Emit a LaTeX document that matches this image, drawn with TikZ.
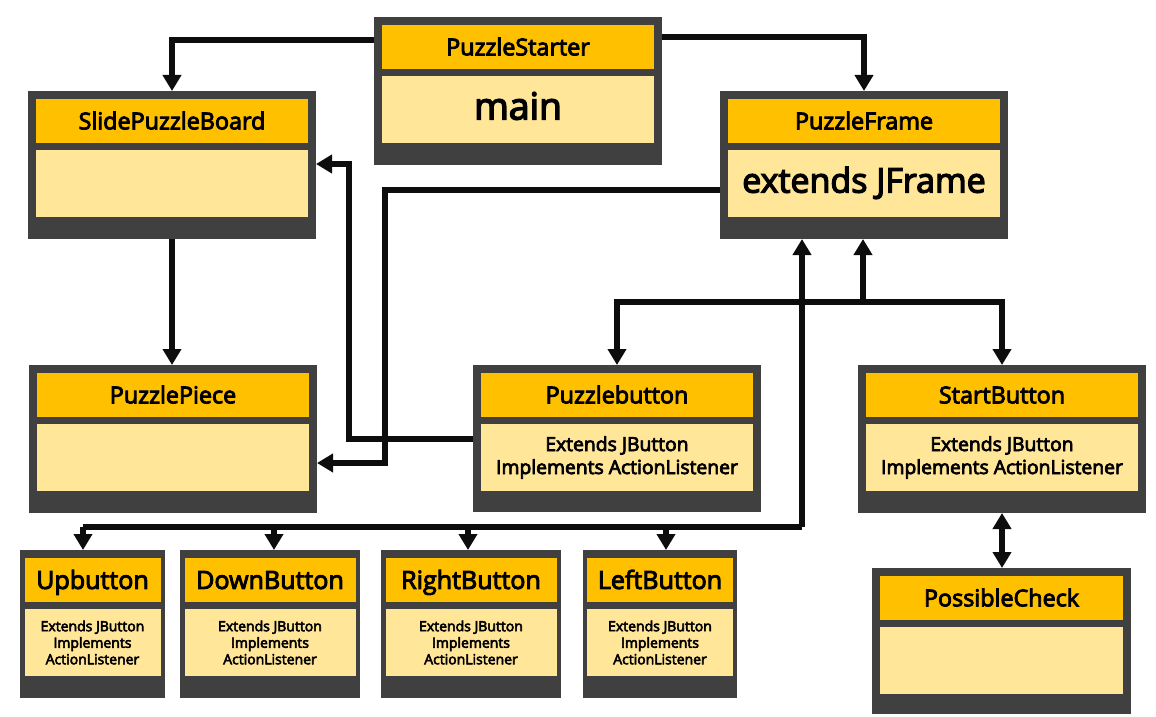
\documentclass[tikz,border=0pt]{standalone}
\usepackage{fontspec}
\setmainfont{Open Sans}[AutoFakeBold=3.8]
\usetikzlibrary{arrows.meta,fit}
\definecolor{frameC}{HTML}{404040}
\definecolor{headC}{HTML}{FFC000}
\definecolor{bodyC}{HTML}{FFE699}
\definecolor{lineC}{HTML}{0D0D0D}
\tikzset{
  outerbox/.style={fill=frameC, inner sep=0pt, outer sep=0pt},
  headbox/.style={fill=headC, inner sep=0pt, outer sep=0pt},
  bodybox/.style={fill=bodyC, inner sep=0pt, outer sep=0pt},
  htext/.style={font=\bfseries\fontsize{17.5}{20}\selectfont, inner sep=0pt, text height=12.5pt, text depth=0pt},
  bigtext/.style={font=\bfseries\fontsize{28}{32}\selectfont, inner sep=0pt, text height=15pt, text depth=0pt},
  frametext/.style={font=\bfseries\fontsize{25.5}{29}\selectfont, inner sep=0pt, text height=13.6pt, text depth=0pt},
  midtext/.style={font=\bfseries\fontsize{14.5}{17.25}\selectfont, inner sep=0pt, align=center},
  smalltext/.style={font=\bfseries\fontsize{10.5}{12.4}\selectfont, inner sep=0pt, align=center},
  emptytext/.style={inner sep=0pt},
  conn/.style={draw=lineC, line width=4.5pt, -{Triangle[width=13.5pt,length=12pt]}},
  bus/.style={draw=lineC, line width=4.5pt},
  dconn/.style={draw=lineC, line width=4.5pt, {Triangle[width=13.5pt,length=12pt]}-{Triangle[width=13.5pt,length=12pt]}}
}
% name, x1, y1, x2, y2, inset, header, body style, body text
\newcommand\umlclass[9]{%
  \node[outerbox, fit={(#2,#3)(#4,#5)}] (#1) {};
  \node[headbox, fit={({#2+#6},{#3+8})({#4-#6},{#3+52})}] (#1-h) {};
  \node[bodybox, fit={({#2+#6},{#3+59})({#4-#6},{#3+126})}] (#1-b) {};
  \node[htext] (#1-ht) at (#1-h.center) {#7};
  \node[#8] (#1-bt) at (#1-b.center) {#9};
}
\begin{document}
\begin{tikzpicture}[x=0.75pt, y=-0.75pt]
\useasboundingbox (0,0) rectangle (1156,717);

\umlclass{ps}{374}{17}{662}{165}{8}{PuzzleStarter}{bigtext}{main}
\umlclass{spb}{28}{91}{316}{239}{8}{SlidePuzzleBoard}{emptytext}{}
\umlclass{pf}{720}{91}{1008}{239}{8}{PuzzleFrame}{frametext}{extends JFrame}
\umlclass{pp}{29}{365}{317}{513}{8}{PuzzlePiece}{emptytext}{}
\umlclass{pb}{473}{365}{761}{512}{8}{Puzzlebutton}{midtext}{Extends JButton\\Implements ActionListener}
\umlclass{sb}{858}{365}{1146}{513}{8}{StartButton}{midtext}{Extends JButton\\Implements ActionListener}
\umlclass{pc}{872}{568}{1131}{714}{8}{PossibleCheck}{emptytext}{}
\begin{scope}[htext/.append style={font=\bfseries\fontsize{18.8}{21}\selectfont, text height=13.4pt}]
\umlclass{ub}{20}{550}{165}{698}{4.5}{Upbutton}{smalltext}{Extends JButton\\Implements\\ActionListener}
\umlclass{db}{180}{550}{360}{698}{4.5}{DownButton}{smalltext}{Extends JButton\\Implements\\ActionListener}
\umlclass{rb}{381}{550}{561}{698}{4.5}{RightButton}{smalltext}{Extends JButton\\Implements\\ActionListener}
\umlclass{lb}{583}{550}{737}{698}{4}{LeftButton}{smalltext}{Extends JButton\\Implements\\ActionListener}
\end{scope}

% routing points
\coordinate (r1) at (172,40);
\coordinate (r2) at (864,37);
\coordinate (r4a) at (349,439);
\coordinate (r4b) at (349,164);
\coordinate (r5a) at (385,190);
\coordinate (r5b) at (385,463);
\coordinate (hub) at (863,302);
\coordinate (busR) at (802,527);
\coordinate (dUb) at (83,527);
\coordinate (dDb) at (274,527);
\coordinate (dRb) at (468,527);
\coordinate (dLb) at (666,527);

% PuzzleStarter -> SlidePuzzleBoard / PuzzleFrame
\draw[conn] (ps.west |- r1) -| (spb.north);
\draw[conn] (ps.east |- r2) -| (pf.north);
% SlidePuzzleBoard -> PuzzlePiece
\draw[conn] (spb.south) -- (pp.north -| spb.south);
% Puzzlebutton -> SlidePuzzleBoard
\draw[conn] (pb.west |- r4a) -- (r4a) -- (r4b) -- (spb.east |- r4b);
% PuzzleFrame -> PuzzlePiece
\draw[conn] (pf.west |- r5a) -- (r5a) -- (r5b) -- (pp.east |- r5b);
% PuzzleFrame hub
\draw[conn] (hub) -- (pf.south -| hub);
\draw[conn] (hub) -| (pb.north);
\draw[conn] (hub) -| (sb.north);
% bus to direction buttons
\draw[conn] (busR) -- (pf.south -| busR);
\draw[bus] (busR) -- (dUb);
\draw[conn] (dUb) -- (ub.north -| dUb);
\draw[conn] (dDb) -- (db.north -| dDb);
\draw[conn] (dRb) -- (rb.north -| dRb);
\draw[conn] (dLb) -- (lb.north -| dLb);
% StartButton <-> PossibleCheck
\draw[dconn] (sb.south) -- (pc.north -| sb.south);
\end{tikzpicture}
\end{document}
